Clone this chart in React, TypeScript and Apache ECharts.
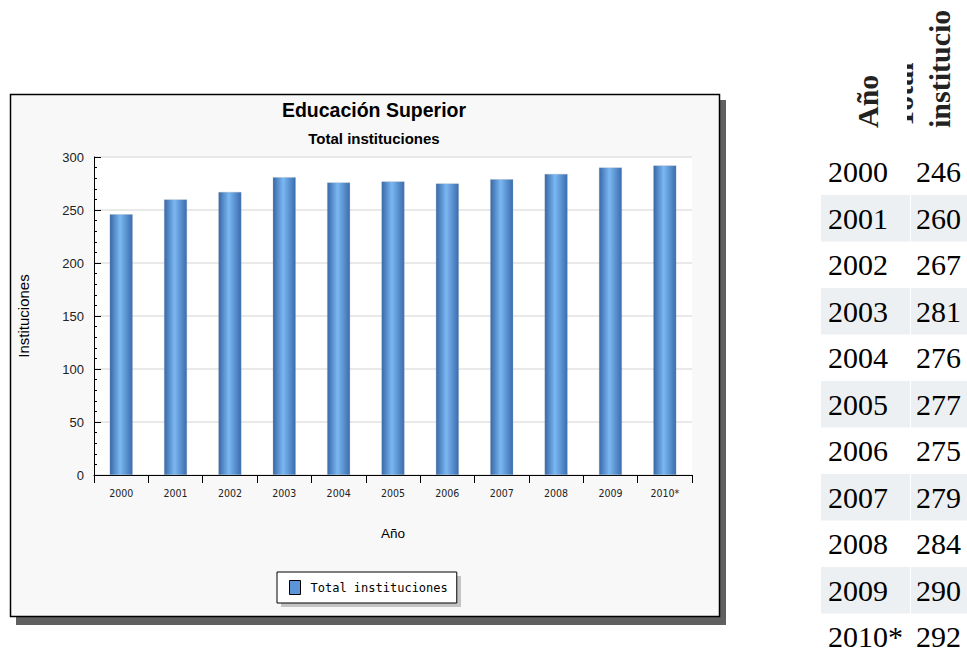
import React, { useEffect, useRef } from "react";
import * as echarts from "echarts";

const years = ["2000", "2001", "2002", "2003", "2004", "2005", "2006", "2007", "2008", "2009", "2010*"];
const totals = [246, 260, 267, 281, 276, 277, 275, 279, 284, 290, 292];
const yTicks = { min: 0, max: 300, interval: 50 };
const chartTitle = "Educación Superior";
const chartSubtitle = "Total instituciones";
const seriesName = "Total instituciones";
const xName = "Año";
const yName = "Instituciones";
const headYear = "Año";
const headTotalA = "Total";
const headTotalB = "institucio";

export default function App() {
  const ref = useRef<HTMLDivElement>(null);
  useEffect(() => {
    document.body.style.margin = "0";
    const chart = echarts.init(ref.current!, null, { renderer: "svg" });
    const rowTop = 148.5;
    const rowH = 46.5;
    const tableEls: any[] = [];
    years.forEach((y, i) => {
      const top = rowTop + i * rowH;
      if (i % 2 === 1) {
        tableEls.push({ type: "rect", shape: { x: 821, y: top, width: 89, height: rowH }, style: { fill: "#edf0f2" } });
        tableEls.push({ type: "rect", shape: { x: 911, y: top, width: 60, height: rowH }, style: { fill: "#edf0f2" } });
      }
      tableEls.push({ type: "text", x: 828, y: top + rowH / 2, style: { text: y, font: "30px 'Liberation Serif', serif", fill: "#000", textAlign: "left", textVerticalAlign: "middle" } });
      tableEls.push({ type: "text", x: 916, y: top + rowH / 2, style: { text: String(totals[i]), font: "30px 'Liberation Serif', serif", fill: "#000", textAlign: "left", textVerticalAlign: "middle" } });
    });
    const headFont = "bold 30px 'Liberation Serif', serif";
    const header = [
      { type: "text", x: 867, y: 128, rotation: Math.PI / 2, style: { text: headYear, font: headFont, fill: "#222", textAlign: "left", textVerticalAlign: "middle" } },
      { type: "text", x: 902, y: 128, rotation: Math.PI / 2, style: { text: headTotalA, font: headFont, fill: "#222", textAlign: "left", textVerticalAlign: "middle" } },
      { type: "rect", shape: { x: 882, y: 0, width: 25, height: 140 }, style: { fill: "#fff" } },
      { type: "text", x: 939, y: 128, rotation: Math.PI / 2, style: { text: headTotalB, font: headFont, fill: "#222", textAlign: "left", textVerticalAlign: "middle" } },
    ];

    chart.setOption({
      animation: false,
      backgroundColor: "#fff",
      title: {
        text: chartTitle,
        subtext: chartSubtitle,
        left: 369,
        top: 95,
        textAlign: "center",
        itemGap: 11,
        textStyle: { fontFamily: "'Liberation Sans', Arial, sans-serif", fontWeight: "bold", fontSize: 19.5, color: "#000" },
        subtextStyle: { fontFamily: "'Liberation Sans', Arial, sans-serif", fontWeight: "bold", fontSize: 15, color: "#000" },
      },
      graphic: [
        { type: "rect", z: -10, shape: { x: 16, y: 100, width: 710, height: 525 }, style: { fill: "#606060" } },
        { type: "rect", z: -9, shape: { x: 10.5, y: 94.5, width: 709, height: 522 }, style: { fill: "#f8f8f8", stroke: "#000", lineWidth: 1.5 } },
        { type: "rect", z: -8, shape: { x: 281, y: 576, width: 180, height: 31 }, style: { fill: "#c4c4c4" } },
        ...header,
        ...tableEls,
      ],
      legend: {
        left: 277,
        top: 572,
        padding: [8, 9, 8, 12],
        backgroundColor: "#fff",
        borderColor: "#000",
        borderWidth: 1,
        borderRadius: 0,
        itemWidth: 11,
        itemHeight: 14,
        itemGap: 10,
        icon: "rect",
        itemStyle: { color: "#5b95d8", borderColor: "#000", borderWidth: 1 },
        textStyle: { fontFamily: "'DejaVu Sans Mono', 'Liberation Mono', monospace", fontSize: 12, color: "#000", padding: [0, 0, 0, 5] },
        data: [seriesName],
      },
      grid: { left: 94, right: 275, top: 157, bottom: 177, show: true, backgroundColor: "#fff", borderWidth: 0, containLabel: false },
      xAxis: {
        type: "category",
        data: years,
        name: xName,
        nameLocation: "middle",
        nameGap: 51,
        nameTextStyle: { fontFamily: "'Liberation Sans', Arial, sans-serif", fontSize: 13.5, color: "#000" },
        axisLine: { lineStyle: { color: "#000", width: 1 } },
        axisTick: { show: true, alignWithLabel: false, length: 8, lineStyle: { color: "#000" } },
        axisLabel: { margin: 12, fontFamily: "'DejaVu Sans Condensed', 'DejaVu Sans', sans-serif", fontSize: 10.5, color: "#222" },
      },
      yAxis: {
        type: "value",
        min: yTicks.min,
        max: yTicks.max,
        interval: yTicks.interval,
        name: yName,
        nameLocation: "middle",
        nameGap: 63,
        nameTextStyle: { fontFamily: "'Liberation Sans', Arial, sans-serif", fontSize: 15, color: "#000" },
        axisLine: { show: true, lineStyle: { color: "#000", width: 1 } },
        axisTick: { show: true, inside: true, length: 7, lineStyle: { color: "#000" } },
        minorTick: { show: true, splitNumber: 5, length: 3, lineStyle: { color: "#000" } },
        axisLabel: { margin: 10, fontFamily: "'Liberation Sans', Arial, sans-serif", fontSize: 13, color: "#222" },
        splitLine: { show: true, lineStyle: { color: "#e2e2e2", width: 1.5 } },
      },
      series: [
        {
          name: seriesName,
          type: "bar",
          data: totals,
          barWidth: 23,
          itemStyle: {
            color: new echarts.graphic.LinearGradient(0, 0, 1, 0, [
              { offset: 0, color: "#3767a8" },
              { offset: 0.45, color: "#7bb8f2" },
              { offset: 1, color: "#3a6cae" },
            ]),
            borderColor: "rgba(150,160,175,0.6)",
            borderWidth: 0.5,
          },
        },
      ],
    });
    return () => chart.dispose();
  }, []);
  return <div ref={ref} style={{ width: 967, height: 652 }} />;
}
